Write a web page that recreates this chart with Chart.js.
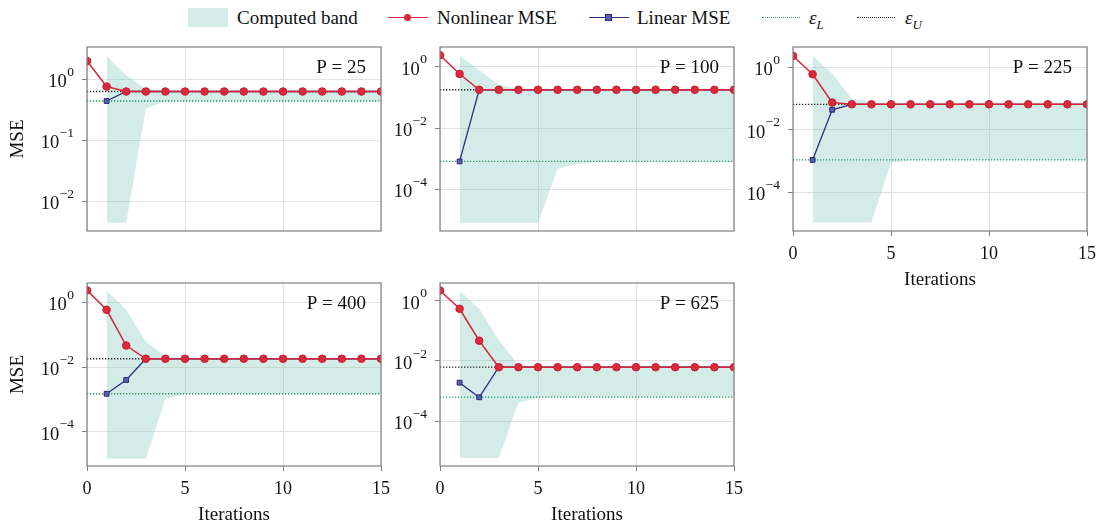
<!DOCTYPE html>
<html>
<head>
<meta charset="utf-8">
<script src="https://cdn.jsdelivr.net/npm/chart.js@4.4.1/dist/chart.umd.min.js"></script>
<style>
  body { margin: 0; background: #fff; width: 1104px; height: 526px; position: relative; overflow: hidden;
         font-family: "Liberation Serif", "Times New Roman", serif; color: #111; }
  canvas { position: absolute; }
  .lg { position: absolute; }
  .txt { font-size: 19px; line-height: 19px; top: 8px; white-space: nowrap; }
</style>
</head>
<body>
<!-- legend -->
<div class="lg" style="left:188px;top:8px;width:40px;height:19px;background:rgba(120,195,180,0.32)"></div>
<div class="lg txt" style="left:237px">Computed band</div>
<div class="lg" style="left:388px;top:17px;width:40px;border-top:1.5px solid #d62839"></div>
<div class="lg" style="left:404px;top:14px;width:7px;height:7px;border-radius:50%;background:#d62839"></div>
<div class="lg txt" style="left:437px">Nonlinear MSE</div>
<div class="lg" style="left:589px;top:17px;width:40px;border-top:1.5px solid #2b2f86"></div>
<div class="lg" style="left:605px;top:14px;width:5px;height:5px;border:1px solid #262a7a;background:#5a5fae"></div>
<div class="lg txt" style="left:637px">Linear MSE</div>
<div class="lg" style="left:762px;top:17px;width:38px;border-top:1.3px dotted #2f9a62"></div>
<div class="lg txt" style="left:809px"><i>ε<sub style="font-size:13px">L</sub></i></div>
<div class="lg" style="left:857px;top:17px;width:38px;border-top:1.3px dotted #222"></div>
<div class="lg txt" style="left:905px"><i>ε<sub style="font-size:13px">U</sub></i></div>

<canvas id="c25"></canvas>
<canvas id="c100"></canvas>
<canvas id="c225"></canvas>
<canvas id="c400"></canvas>
<canvas id="c625"></canvas>

<script>
const serif = '"Liberation Serif", "Times New Roman", serif';

const iters = [0, 1, 2, 3, 4, 5, 6, 7, 8, 9, 10, 11, 12, 13, 14, 15];
const xTicks = [0, 5, 10, 15];

// P = 25
const nl25  = [2.0, 0.76, 0.63, 0.63, 0.63, 0.63, 0.63, 0.63, 0.63, 0.63, 0.63, 0.63, 0.63, 0.63, 0.63, 0.63];
const lin25 = [null, 0.44, 0.63, 0.63, 0.63, 0.63, 0.63, 0.63, 0.63, 0.63, 0.63, 0.63, 0.63, 0.63, 0.63, 0.63];
const hi25  = [null, 2.4, 1.17, 0.69, 0.64, 0.63, 0.63, 0.63, 0.63, 0.63, 0.63, 0.63, 0.63, 0.63, 0.63, 0.63];
const lo25  = [null, 0.0044, 0.0044, 0.33, 0.43, 0.44, 0.44, 0.44, 0.44, 0.44, 0.44, 0.44, 0.44, 0.44, 0.44, 0.44];
const eps25 = [0.44, 0.63];

// P = 100
const nl100  = [2.4, 0.59, 0.18, 0.18, 0.18, 0.18, 0.18, 0.18, 0.18, 0.18, 0.18, 0.18, 0.18, 0.18, 0.18, 0.18];
const lin100 = [null, 0.00083, 0.18, 0.18, 0.18, 0.18, 0.18, 0.18, 0.18, 0.18, 0.18, 0.18, 0.18, 0.18, 0.18, 0.18];
const hi100  = [null, 2.3, 0.8, 0.26, 0.19, 0.18, 0.18, 0.18, 0.18, 0.18, 0.18, 0.18, 0.18, 0.18, 0.18, 0.18];
const lo100  = [null, 8.3e-6, 8.3e-6, 8.3e-6, 8.3e-6, 8.3e-6, 4.7e-4, 7.0e-4, 8.0e-4, 8.3e-4, 8.3e-4, 8.3e-4, 8.3e-4, 8.3e-4, 8.3e-4, 8.3e-4];
const eps100 = [0.00083, 0.18];

// P = 225
const nl225  = [2.3, 0.6, 0.075, 0.066, 0.066, 0.066, 0.066, 0.066, 0.066, 0.066, 0.066, 0.066, 0.066, 0.066, 0.066, 0.066];
const lin225 = [null, 0.0011, 0.044, 0.066, 0.066, 0.066, 0.066, 0.066, 0.066, 0.066, 0.066, 0.066, 0.066, 0.066, 0.066, 0.066];
const hi225  = [null, 2.3, 0.64, 0.1, 0.08, 0.066, 0.066, 0.066, 0.066, 0.066, 0.066, 0.066, 0.066, 0.066, 0.066, 0.066];
const lo225  = [null, 1.1e-5, 1.1e-5, 1.1e-5, 1.1e-5, 8.9e-4, 0.0011, 0.0011, 0.0011, 0.0011, 0.0011, 0.0011, 0.0011, 0.0011, 0.0011, 0.0011];
const eps225 = [0.0011, 0.066];

// P = 400
const nl400  = [2.3, 0.58, 0.046, 0.018, 0.018, 0.018, 0.018, 0.018, 0.018, 0.018, 0.018, 0.018, 0.018, 0.018, 0.018, 0.018];
const lin400 = [null, 0.0015, 0.004, 0.018, 0.018, 0.018, 0.018, 0.018, 0.018, 0.018, 0.018, 0.018, 0.018, 0.018, 0.018, 0.018];
const hi400  = [null, 2.3, 0.58, 0.06, 0.022, 0.018, 0.018, 0.018, 0.018, 0.018, 0.018, 0.018, 0.018, 0.018, 0.018, 0.018];
const lo400  = [null, 1.5e-5, 1.5e-5, 1.5e-5, 0.00105, 0.0015, 0.0015, 0.0015, 0.0015, 0.0015, 0.0015, 0.0015, 0.0015, 0.0015, 0.0015, 0.0015];
const eps400 = [0.0015, 0.018];

// P = 625
const nl625  = [2.2, 0.54, 0.047, 0.0062, 0.0062, 0.0062, 0.0062, 0.0062, 0.0062, 0.0062, 0.0062, 0.0062, 0.0062, 0.0062, 0.0062, 0.0062];
const lin625 = [null, 0.0019, 0.00062, 0.0062, 0.0062, 0.0062, 0.0062, 0.0062, 0.0062, 0.0062, 0.0062, 0.0062, 0.0062, 0.0062, 0.0062, 0.0062];
const hi625  = [null, 2.2, 0.54, 0.05, 0.0075, 0.0062, 0.0062, 0.0062, 0.0062, 0.0062, 0.0062, 0.0062, 0.0062, 0.0062, 0.0062, 0.0062];
const lo625  = [null, 6e-6, 6e-6, 6e-6, 4.1e-4, 6e-4, 0.00063, 0.00063, 0.00063, 0.00063, 0.00063, 0.00063, 0.00063, 0.00063, 0.00063, 0.00063];
const eps625 = [0.00063, 0.0062];

// y tick exponents (labels 10^k)
const yTickExp25 = [0, -1, -2];
const yTickExpN  = [0, -2, -4];

const panels = [
  { id: 'c25',  title: 'P = 25',  nl: nl25,  lin: lin25,  hi: hi25,  lo: lo25,  eps: eps25,  yExp: yTickExp25, yRange: [-2.49, 0.53], box: [87, 47, 381, 231],  yTitle: true,  xLab: false },
  { id: 'c100', title: 'P = 100', nl: nl100, lin: lin100, hi: hi100, lo: lo100, eps: eps100, yExp: yTickExpN,  yRange: [-5.35, 0.65], box: [440, 47, 734, 231], yTitle: false, xLab: false },
  { id: 'c225', title: 'P = 225', nl: nl225, lin: lin225, hi: hi225, lo: lo225, eps: eps225, yExp: yTickExpN,  yRange: [-5.23, 0.65], box: [793, 47, 1087, 231], yTitle: false, xLab: true },
  { id: 'c400', title: 'P = 400', nl: nl400, lin: lin400, hi: hi400, lo: lo400, eps: eps400, yExp: yTickExpN,  yRange: [-5.05, 0.59], box: [87, 283, 381, 466], yTitle: true,  xLab: true },
  { id: 'c625', title: 'P = 625', nl: nl625, lin: lin625, hi: hi625, lo: lo625, eps: eps625, yExp: yTickExpN,  yRange: [-5.49, 0.59], box: [440, 283, 734, 466], yTitle: false, xLab: true }
];

const Y_W = 87, X_H = 60, PAD_T = 8, PAD_R = 12;

function pts(vals) {
  return iters.map((x, i) => ({ x: x, y: vals[i] })).filter(p => p.y != null);
}

// frame, superscript tick labels and panel title
const panelPlugin = {
  id: 'panel',
  afterDraw(chart, args, opts) {
    const ctx = chart.ctx, a = chart.chartArea, ys = chart.scales.y;
    ctx.save();
    ctx.strokeStyle = '#808080';
    ctx.lineWidth = 1.2;
    ctx.strokeRect(a.left, a.top, a.right - a.left, a.bottom - a.top);
    ctx.fillStyle = '#111';
    ctx.textBaseline = 'middle';
    ctx.textAlign = 'right';
    ys.ticks.forEach(t => {
      const py = ys.getPixelForValue(t.value);
      const e = Math.round(Math.log10(t.value));
      const exp = e < 0 ? '\u2212' + (-e) : String(e);
      ctx.font = '13.5px ' + serif;
      const ew = ctx.measureText(exp).width;
      const r = a.left - 13;
      ctx.fillText(exp, r, py - 7);
      ctx.font = '18.5px ' + serif;
      ctx.fillText('10', r - ew - 0.5, py + 3);
    });
    ctx.font = '19px ' + serif;
    ctx.fillText(opts.title, a.right - 15, a.top + 21);
    ctx.restore();
  }
};

panels.forEach(p => {
  const [L, T, R, B] = p.box;
  const cv = document.getElementById(p.id);
  const w = Y_W + (R - L) + PAD_R, h = PAD_T + (B - T) + X_H;
  cv.width = w; cv.height = h;
  cv.style.left = (L - Y_W) + 'px';
  cv.style.top = (T - PAD_T) + 'px';

  new Chart(cv.getContext('2d'), {
    type: 'line',
    data: {
      datasets: [
        { data: pts(p.lo), borderWidth: 0, pointRadius: 0, fill: false, order: 10, clip: 0 },
        { data: pts(p.hi), borderWidth: 0, pointRadius: 0, fill: '-1', backgroundColor: 'rgba(120,195,180,0.32)', order: 10, clip: 0 },
        { data: [{ x: 0, y: p.eps[0] }, { x: 15, y: p.eps[0] }], borderColor: '#2f9a62', borderWidth: 1.3, borderDash: [1.3, 1.7], pointRadius: 0, order: 8, clip: 0 },
        { data: [{ x: 0, y: p.eps[1] }, { x: 15, y: p.eps[1] }], borderColor: '#222', borderWidth: 1.3, borderDash: [1.3, 1.7], pointRadius: 0, order: 8, clip: 0 },
        { data: pts(p.lin), borderColor: '#2b2f86', borderWidth: 1.3, pointStyle: 'rect', pointRadius: 3.4,
          pointBackgroundColor: '#5a5fae', pointBorderColor: '#262a7a', pointBorderWidth: 1, order: 2, clip: 0 },
        { data: pts(p.nl), borderColor: '#d62839', borderWidth: 1.5, pointStyle: 'circle', pointRadius: 3.8,
          pointBackgroundColor: '#dc2a3c', pointBorderColor: '#c41e30', pointBorderWidth: 1, order: 1, clip: 0 }
      ]
    },
    options: {
      responsive: false,
      animation: false,
      devicePixelRatio: 1,
      layout: { padding: { top: PAD_T, right: PAD_R, left: 0, bottom: 0 } },
      plugins: {
        legend: { display: false },
        tooltip: { enabled: false },
        panel: { title: p.title }
      },
      scales: {
        x: {
          type: 'linear',
          min: 0, max: 15,
          afterBuildTicks: s => { s.ticks = xTicks.map(v => ({ value: v })); },
          afterFit: s => { s.height = X_H; s.paddingLeft = 0; s.paddingRight = 0; },
          border: { display: false },
          grid: { color: '#e2e2e2', lineWidth: 1, drawTicks: p.xLab, tickLength: 5, tickColor: '#808080' },
          ticks: { display: p.xLab, padding: 7, color: '#111', font: { family: serif, size: 18 }, maxRotation: 0 },
          title: { display: p.xLab, text: 'Iterations', color: '#111', font: { family: serif, size: 19 }, padding: { top: 0, bottom: 0 } }
        },
        y: {
          type: 'logarithmic',
          bounds: 'data',
          min: Math.pow(10, p.yRange[0]),
          max: Math.pow(10, p.yRange[1]),
          afterBuildTicks: s => { s.ticks = p.yExp.map(e => ({ value: Math.pow(10, e) })); },
          afterFit: s => { s.width = Y_W; s.paddingTop = 0; s.paddingBottom = 0; },
          border: { display: false },
          grid: { color: '#e2e2e2', lineWidth: 1, drawTicks: true, tickLength: 5, tickColor: '#808080' },
          ticks: { display: false },
          title: { display: p.yTitle, text: 'MSE', color: '#111', font: { family: serif, size: 19 }, padding: { top: 7, bottom: 0 } }
        }
      }
    },
    plugins: [panelPlugin]
  });
});
</script>
</body>
</html>
